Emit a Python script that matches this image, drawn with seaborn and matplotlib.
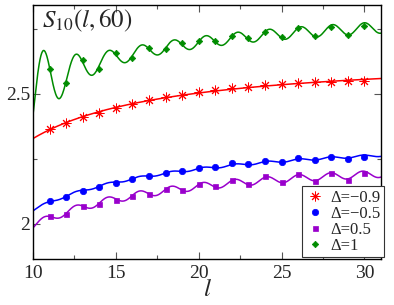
import numpy as np
import matplotlib
matplotlib.use("Agg")
import matplotlib.pyplot as plt
import seaborn as sns
from matplotlib.ticker import MultipleLocator

# valeurs, l = 11 ... 30
l_pts = np.arange(11, 31)
s_m09 = [2.364, 2.387, 2.410, 2.426, 2.445, 2.460, 2.477, 2.487, 2.496, 2.506,
         2.515, 2.522, 2.528, 2.533, 2.537, 2.542, 2.545, 2.547, 2.549, 2.550]
s_m05 = [2.088, 2.104, 2.127, 2.141, 2.158, 2.172, 2.183, 2.197, 2.203, 2.215,
         2.218, 2.233, 2.231, 2.242, 2.238, 2.252, 2.245, 2.257, 2.249, 2.259]
s_p05 = [2.031, 2.038, 2.067, 2.077, 2.092, 2.109, 2.115, 2.133, 2.131, 2.154,
         2.144, 2.169, 2.154, 2.185, 2.160, 2.191, 2.165, 2.195, 2.169, 2.197]
s_p1 = [2.596, 2.541, 2.631, 2.595, 2.657, 2.640, 2.676, 2.672, 2.695, 2.705,
        2.705, 2.724, 2.714, 2.740, 2.720, 2.752, 2.724, 2.759, 2.728, 2.762]

# quelques points de la courbe d'ajustement
anc_m09_l, anc_m09_s = [10.0, 31.0], [2.342, 2.550]
anc_m05_l, anc_m05_s = [10.0], [2.057]
anc_p05_l, anc_p05_s = [10.0], [1.992]
anc_p1_l = [10.0, 10.66, 11.59]
anc_p1_s = [2.446, 2.682, 2.470]

labels = ["Δ=−0.9", "Δ=−0.5", "Δ=0.5", "Δ=1"]
colors = ["#ff0000", "#0000ff", "#9900cc", "#008c00"]
markers = [(8, 2, 0), "o", "s", "D"]
msizes = [7, 4.6, 3.6, 3.3]
# 0 : pas d'oscillation, 1 : oscillation, 2 : oscillation calee + partie amortie
osc_level = [0, 1, 1, 2]

K_OSC = 3.27
K_P1 = 3.29
L_ALIGN = 30.0
TAU = 2.0
W_ANC = 0.5


def design(l, level):
    cols = [np.ones_like(l), 1 / l, 1 / l ** 2]
    if level == 1:
        cols += [np.cos(K_OSC * l), np.sin(K_OSC * l)]
    if level == 2:
        env = np.exp(-(l - 10) / TAU)
        cols += [np.cos(K_P1 * (l - L_ALIGN)),
                 env * np.cos(K_P1 * l), env * np.sin(K_P1 * l)]
    return np.column_stack(cols)


l_fine = np.linspace(10, 31, 800)

sns.set_style("ticks")
plt.rcParams["font.family"] = ["Liberation Serif", "DejaVu Serif"]
plt.rcParams["mathtext.fontset"] = "stix"

fig = plt.figure(figsize=(3.94, 3.05), dpi=100)
ax = fig.add_axes([33 / 394, 1 - 259 / 305, 348 / 394, 254 / 305])

series = [(s_m09, anc_m09_l, anc_m09_s), (s_m05, anc_m05_l, anc_m05_s),
          (s_p05, anc_p05_l, anc_p05_s), (s_p1, anc_p1_l, anc_p1_s)]
for (y, al, as_), lab, c, m, ms, lev in zip(series, labels, colors,
                                           markers, msizes, osc_level):
    lx = np.concatenate([l_pts.astype(float), al])
    ly = np.concatenate([y, as_])
    w = np.concatenate([np.ones(len(y)), np.full(len(al), W_ANC)])
    A = design(lx, lev) * w[:, None]
    coef, *_ = np.linalg.lstsq(A, ly * w, rcond=None)
    curve = design(l_fine, lev) @ coef
    sns.lineplot(x=l_fine, y=curve, color=c, lw=1.1, ax=ax, legend=False)
    ax.plot(l_pts, y, ls="none", marker=m, ms=ms, color=c, mec=c,
            mew=0.7 if m == (8, 2, 0) else 0.5, label=lab)

ax.set_xlim(10, 31)
ax.set_ylim(1.865, 2.842)
ax.xaxis.set_major_locator(MultipleLocator(5))
ax.xaxis.set_minor_locator(MultipleLocator(2.5))
ax.set_yticks([2, 2.5])
ax.set_yticklabels(["2", "2.5"])
ax.yaxis.set_minor_locator(MultipleLocator(0.25))
ax.tick_params(which="both", direction="in", top=True, right=True,
               labelsize=14, width=0.8, color="#555555")
ax.tick_params(which="major", length=5, pad=2)
ax.tick_params(which="minor", length=3)
ax.tick_params(axis="x", pad=4)
for sp in ax.spines.values():
    sp.set_linewidth(1.0)
    sp.set_color("black")

ax.set_xlabel(r"$l$", fontsize=18, labelpad=-2)
ax.set_ylabel("")
ax.text(0.025, 0.99, r"$S_{10}(l,60)$", transform=ax.transAxes,
        fontsize=18, va="top", ha="left")

leg = ax.legend(loc="lower right", bbox_to_anchor=(384 / 394, 1 - 257 / 305),
                bbox_transform=fig.transFigure, borderaxespad=0,
                fontsize=12, labelspacing=0.0, borderpad=0.2,
                handletextpad=0.3, handlelength=1.2, fancybox=False,
                framealpha=1, edgecolor="#333333")
leg.get_frame().set_linewidth(0.8)

fig.savefig("out.png", dpi=100)
